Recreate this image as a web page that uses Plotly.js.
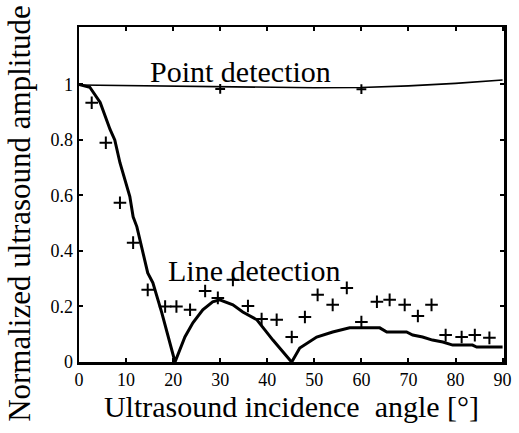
<!DOCTYPE html>
<html><head><meta charset="utf-8">
<script src="https://cdn.plot.ly/plotly-3.0.1.min.js"></script>
<style>html,body{margin:0;padding:0;background:#fff}#c{width:519px;height:433px}</style>
</head><body><div id="c"></div>
<script>
// Point detection (theory line + measured points)
const pointTheoryX = [0, 10, 20, 30, 40, 50, 60, 70, 80, 90];
const pointTheoryY = [0.998, 0.996, 0.993, 0.99, 0.989, 0.988, 0.989, 0.995, 1.004, 1.016];
const pointMeasX = [30, 60];
const pointMeasY = [0.984, 0.983];

// Line detection theory curve
const lineTheoryX = [0, 2.3, 4.5, 6.6, 7.6, 8.7, 10.8, 11.5, 12.3, 13.4, 14.6, 15.7, 17.2, 17.6, 20.4,
  22.5, 24.2, 26.3, 28.4, 29.9, 32.7, 34.8, 37.8, 41.2, 44.8, 45.2, 46.9, 50.5, 53.9, 57.5, 63.9,
  65.4, 69.6, 70.9, 73.0, 75.1, 77.3, 79.4, 83.6, 84.5, 90];
const lineTheoryY = [1.0, 0.99, 0.935, 0.838, 0.80, 0.718, 0.596, 0.523, 0.487, 0.404, 0.321, 0.285, 0.199, 0.177, 0.0,
  0.09, 0.141, 0.188, 0.217, 0.224, 0.206, 0.18, 0.152, 0.079, 0.007, 0.0, 0.05, 0.09, 0.108, 0.123, 0.123,
  0.108, 0.108, 0.097, 0.09, 0.079, 0.072, 0.061, 0.061, 0.054, 0.054];

// Line detection measured points
const lineMeasX = [2.7, 5.7, 8.7, 11.5, 14.6, 18.3, 20.7, 23.6, 26.8, 29.5, 32.7, 35.9, 38.8, 42.0, 45.2,
  48.0, 50.7, 53.9, 56.9, 60.0, 63.3, 66.0, 69.2, 72.0, 74.9, 77.9, 81.3, 84.1, 87.2];
const lineMeasY = [0.934, 0.79, 0.574, 0.43, 0.26, 0.2, 0.2, 0.188, 0.256, 0.231, 0.296, 0.202, 0.155, 0.152, 0.09,
  0.162, 0.242, 0.206, 0.267, 0.144, 0.217, 0.224, 0.206, 0.166, 0.206, 0.097, 0.09, 0.097, 0.087];

const xTicks = [0, 10, 20, 30, 40, 50, 60, 70, 80, 90];
const xTickText = ['0', '10', '20', '30', '40', '50', '60', '70', '80', '90'];
const yTicks = [0, 0.2, 0.4, 0.6, 0.8, 1];
const yTickText = ['0', '0.2', '0.4', '0.6', '0.8', '1'];

const F = 'Liberation Serif';
const traces = [
  {x: pointTheoryX, y: pointTheoryY, mode: 'lines', line: {color: '#000', width: 1.6}},
  {x: pointMeasX, y: pointMeasY, mode: 'markers', marker: {symbol: 'cross-thin', size: 7, line: {color: '#000', width: 2}}},
  {x: lineTheoryX, y: lineTheoryY, mode: 'lines', line: {color: '#000', width: 3}},
  {x: lineMeasX, y: lineMeasY, mode: 'markers', marker: {symbol: 'cross-thin', size: 9, line: {color: '#000', width: 2}}}
];
const axisCommon = {
  showgrid: false, zeroline: false, showline: true, linecolor: '#000', linewidth: 2.5, mirror: 'ticks',
  ticks: 'inside', ticklen: 4, tickwidth: 2, tickcolor: '#000',
  tickfont: {family: F, size: 18, color: '#000'}
};
const layout = {
  width: 519, height: 433, paper_bgcolor: '#fff', plot_bgcolor: '#fff', showlegend: false,
  margin: {l: 79, r: 15, t: 27, b: 71},
  font: {family: F, color: '#000'},
  xaxis: Object.assign({}, axisCommon, {range: [0, 90.3], tickvals: xTicks, ticktext: xTickText,
    title: {text: 'Ultrasound incidence  angle [°]', font: {family: F, size: 30, color: '#000'}, standoff: 5}}),
  yaxis: Object.assign({}, axisCommon, {range: [0, 1.207], tickvals: yTicks, ticktext: yTickText}),
  annotations: [
    {x: -0.139, y: 0.445, xref: 'paper', yref: 'paper', text: 'Normalized ultrasound amplitude', showarrow: false,
     textangle: -90, font: {family: F, size: 31, color: '#000'}, xanchor: 'center', yanchor: 'middle'},
    {x: 34.4, y: 1.045, xref: 'x', yref: 'y', text: 'Point detection', showarrow: false,
     font: {family: F, size: 30, color: '#000'}, xanchor: 'center', yanchor: 'middle'},
    {x: 37.2, y: 0.33, xref: 'x', yref: 'y', text: 'Line detection', showarrow: false,
     font: {family: F, size: 30, color: '#000'}, xanchor: 'center', yanchor: 'middle'}
  ]
};
Plotly.newPlot('c', traces, layout, {staticPlot: true, displayModeBar: false});
</script></body></html>
